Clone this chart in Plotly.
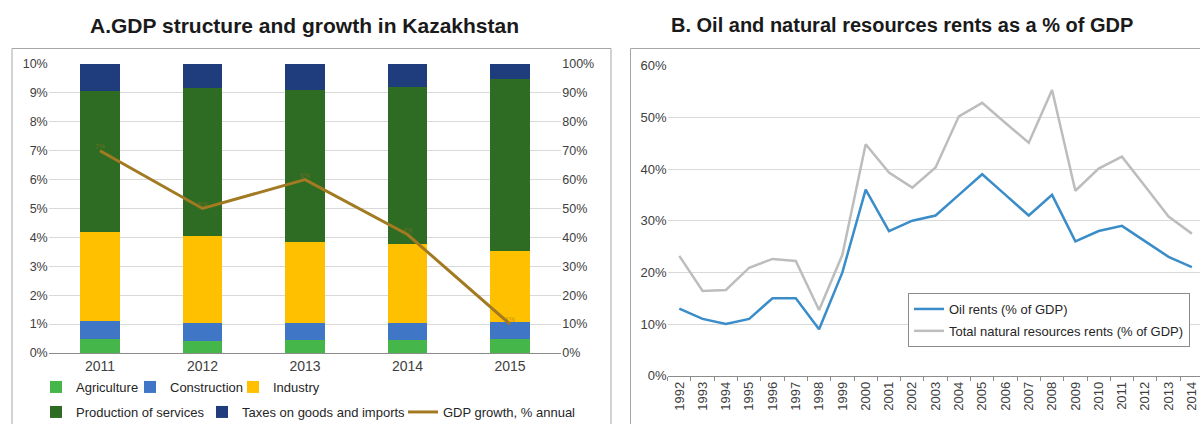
import plotly.graph_objects as go

# ---------------- Data ----------------
years_a = ["2011", "2012", "2013", "2014", "2015"]
agriculture = [4.8, 4.1, 4.5, 4.4, 4.8]
construction = [6.4, 6.2, 5.9, 6.0, 5.9]
industry = [30.6, 30.2, 28.0, 27.2, 24.6]
services = [49.0, 51.3, 52.6, 54.6, 59.4]
taxes = [9.2, 8.2, 9.0, 7.8, 5.3]
gdp_growth = [7.0, 5.0, 6.0, 4.1, 1.0]
gdp_labels = ["7%", "5%", "6%", "4%", "1%"]

years_b = [str(y) for y in range(1992, 2015)]
oil_rents = [13, 11, 10, 11, 15, 15, 9, 20, 36, 28, 30, 31, 35, 39, 35, 31, 35,
             26, 28, 29, 26, 23, 21]
total_rents = [23.2, 16.4, 16.6, 20.9, 22.6, 22.2, 12.7, 23.4, 44.8, 39.3, 36.4,
               40.3, 50.2, 52.8, 48.9, 45.1, 55.3, 35.8, 40.1, 42.4, 36.6, 30.8, 27.5]

left_ticks = [f"{i}%" for i in range(0, 11)]
right_ticks = [f"{i}%" for i in range(0, 101, 10)]

FONT = "Liberation Sans, Arial, sans-serif"
W, H = 1200, 424

def px(x):
    return x / W

def py(y):
    return (H - y) / H

fig = go.Figure()

bar_series = [
    ("Agriculture", agriculture, "#45b649", "legend"),
    ("Construction", construction, "#3f76c6", "legend2"),
    ("Industry", industry, "#ffc000", "legend3"),
    ("Production of services", services, "#2e6b23", "legend4"),
    ("Taxes on goods and imports", taxes, "#1f3c7c", "legend5"),
]
for name, vals, col, lg in bar_series:
    fig.add_trace(go.Bar(x=years_a, y=vals, name=name, marker_color=col,
                         marker_line_width=0, xaxis="x", yaxis="y", legend=lg,
                         showlegend=True))

fig.add_trace(go.Scatter(x=years_a, y=gdp_growth, name="GDP growth, % annual",
                         mode="lines+text", text=gdp_labels, textposition="top center",
                         textfont=dict(size=7, color="rgba(150,115,40,0.6)"),
                         line=dict(color="#a27a22", width=3),
                         xaxis="x", yaxis="y2", legend="legend6", showlegend=True))

fig.add_trace(go.Scatter(x=years_b, y=[v / 100 for v in oil_rents], name="Oil rents (% of GDP)",
                         mode="lines", line=dict(color="#3a8dc9", width=2.5),
                         xaxis="x2", yaxis="y3", legend="legend7", legendgroup="oil"))
fig.add_trace(go.Scatter(x=years_b, y=[v / 100 for v in total_rents],
                         name="Total natural resources rents (% of GDP)",
                         mode="lines", line=dict(color="#bdbdbd", width=2.5),
                         xaxis="x2", yaxis="y3", legend="legend7", legendgroup="total"))

tickfont = dict(family=FONT, size=12.5, color="#404040")
legfont = dict(family=FONT, size=13, color="#262626")

def row_legend(x_text, y_center):
    return dict(orientation="h", x=px(x_text - 34), xanchor="left", y=py(y_center),
                yanchor="middle", font=legfont, bgcolor="rgba(0,0,0,0)",
                borderwidth=0, itemwidth=30, visible=True)

fig.update_layout(
    width=W, height=H,
    margin=dict(l=0, r=0, t=0, b=0, autoexpand=False),
    paper_bgcolor="white", plot_bgcolor="white",
    font=dict(family=FONT),
    showlegend=True,
    barmode="stack", bargap=0.61,
    xaxis=dict(domain=[px(48.75), px(561.25)], type="category", anchor="y",
               showline=True, linecolor="#8c8c8c", linewidth=1, ticks="",
               tickfont=dict(family=FONT, size=14, color="#404040"), showgrid=False),
    yaxis=dict(domain=[py(353), py(64)], range=[0, 100], side="right", anchor="x",
               tickvals=list(range(0, 101, 10)), ticktext=right_ticks,
               tickfont=tickfont, showgrid=True, gridcolor="#d9d9d9", gridwidth=1,
               zeroline=False, showline=False, ticks=""),
    yaxis2=dict(range=[0, 10], overlaying="y", side="left", anchor="x",
                tickvals=list(range(0, 11)), ticktext=left_ticks,
                tickfont=tickfont, showgrid=False, zeroline=False, showline=False, ticks=""),
    xaxis2=dict(domain=[px(667.65), 1.0], type="category", anchor="y3",
                range=[-0.5, 22.35], tickson="boundaries", ticks="outside", ticklen=4,
                tickcolor="#8c8c8c", showline=True, linecolor="#8c8c8c", linewidth=1,
                tickangle=-90, tickfont=dict(family=FONT, size=13, color="#404040"),
                showgrid=False),
    yaxis3=dict(domain=[py(375.7), py(65.7)], range=[0, 0.6], dtick=0.1, anchor="x2",
                tickformat=".0%", tickfont=dict(family=FONT, size=13, color="#404040"),
                showgrid=True, gridcolor="#d9d9d9", gridwidth=1, zeroline=False,
                showline=False, ticks=""),
    legend=row_legend(70, 387),
    legend2=row_legend(164, 387),
    legend3=row_legend(267, 387),
    legend4=row_legend(70, 412),
    legend5=row_legend(236, 412),
    legend6=row_legend(437, 412),
    legend7=dict(orientation="v", x=px(908), xanchor="left", y=py(293), yanchor="top",
                 font=legfont, bgcolor="white", bordercolor="#8c8c8c", borderwidth=1,
                 tracegroupgap=2, itemwidth=30),
    shapes=[
        dict(type="rect", xref="paper", yref="paper", x0=px(12), x1=px(611),
             y0=-0.2, y1=py(48.5), line=dict(color="#a6a6a6", width=1), layer="below"),
        dict(type="rect", xref="paper", yref="paper", x0=px(630.5), x1=1.2,
             y0=-0.2, y1=py(48.5), line=dict(color="#a6a6a6", width=1), layer="below"),
    ],
    annotations=[
        dict(text="<b>A.GDP structure and growth in Kazakhstan</b>", xref="paper", yref="paper",
             x=px(304), y=py(25), xanchor="center", yanchor="middle", showarrow=False,
             font=dict(family=FONT, size=21, color="#1a1a1a")),
        dict(text="<b>B. Oil and natural resources rents as a % of GDP</b>", xref="paper",
             yref="paper", x=px(902), y=py(25.5), xanchor="center", yanchor="middle",
             showarrow=False, font=dict(family=FONT, size=20, color="#1a1a1a")),
    ],
)

fig.write_html("out.html", config={"displayModeBar": False},
               post_script="document.body.style.margin='0';document.body.style.overflow='hidden';")
